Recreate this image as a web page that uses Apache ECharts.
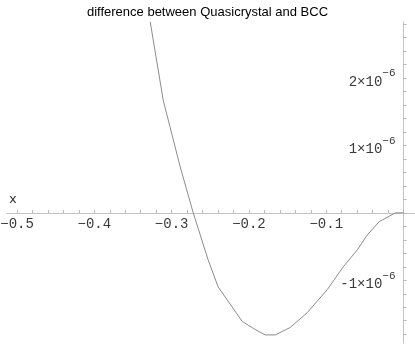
<!DOCTYPE html>
<html>
<head>
<meta charset="utf-8">
<script src="https://cdn.jsdelivr.net/npm/echarts@6/dist/echarts.min.js"></script>
<style>
  html, body { margin: 0; padding: 0; background: #fff; }
</style>
</head>
<body>
<div id="chart" style="width:415px;height:347px"></div>
<script>
// difference values are in units of 1e-6
const xs = [-0.3277, -0.3109, -0.2889, -0.2721, -0.2527, -0.2398, -0.2087, -0.1919, -0.179, -0.166,
  -0.1466, -0.1246, -0.0988, -0.078, -0.0599, -0.047, -0.0315, -0.0107, 0]
const diff = [2.83, 1.67, 0.68, 0, -0.7, -1.1, -1.61, -1.73, -1.81, -1.81,
  -1.7, -1.48, -1.14, -0.8, -0.55, -0.33, -0.13, 0, 0]

const xLabels = [-0.5, -0.4, -0.3, -0.2, -0.1]
const yLabels = [-1, 1, 2]

const xTicks = []
for (let i = -25; i <= 0; i++) xTicks.push(i * 0.02)
const yTicks = []
for (let i = -9; i <= 14; i++) yTicks.push(i * 0.2)

// plot area in px: x from 7 to 415, y from 22 to 343; zero lines at x=403.5, y=213
const chart = echarts.init(document.getElementById('chart'))

chart.setOption({
  animation: false,
  title: {
    text: 'difference between Quasicrystal and BCC',
    left: 'center',
    top: 1,
    textStyle: {
      fontFamily: 'Liberation Sans',
      fontWeight: 'normal',
      fontSize: 13,
      color: '#000',
    },
  },
  graphic: [
    {
      type: 'text',
      left: 9,
      top: 193,
      style: { text: 'x', font: '13px "Liberation Mono"', fill: '#222' },
    },
  ],
  grid: {
    left: 7,
    right: 0,
    top: 22,
    bottom: 4,
    outerBoundsMode: 'none',
  },
  xAxis: {
    type: 'value',
    position: 'bottom',
    offset: -130,
    min: -0.513,
    max: 0.0148,
    splitLine: { show: false },
    axisLine: { onZero: false, lineStyle: { color: '#c4c4c4', width: 1 } },
    axisTick: {
      inside: true,
      length: 3,
      customValues: xTicks,
      lineStyle: { color: '#b8b8b8' },
    },
    axisLabel: {
      customValues: xLabels,
      margin: 4,
      fontFamily: 'Liberation Mono',
      fontSize: 14,
      color: '#3a3a3a',
      formatter: (v) => '\u2212' + Math.abs(v).toFixed(1),
    },
  },
  yAxis: {
    type: 'value',
    position: 'left',
    offset: -396.5,
    min: -1.93,
    max: 2.83,
    splitLine: { show: false },
    axisLine: { onZero: false, lineStyle: { color: '#c4c4c4', width: 1 } },
    axisTick: {
      inside: true,
      length: 3,
      customValues: yTicks,
      lineStyle: { color: '#b8b8b8' },
    },
    axisLabel: {
      customValues: yLabels,
      margin: 8,
      color: '#3a3a3a',
      formatter: (v) => '{a|' + (v < 0 ? '-' : '') + Math.abs(Math.round(v)) + '\u00d710}{s|\u22126}',
      rich: {
        a: { fontFamily: 'Liberation Mono', fontSize: 14, color: '#3a3a3a', padding: [8, 0, 0, 0] },
        s: { fontFamily: 'Liberation Mono', fontSize: 11, color: '#3a3a3a', padding: [0, 0, 9, 0] },
      },
    },
  },
  series: [
    {
      type: 'line',
      data: xs.map((x, i) => [x, diff[i]]),
      showSymbol: false,
      symbol: 'none',
      clip: true,
      lineStyle: { color: '#8c8c8c', width: 1 },
    },
  ],
})
</script>
</body>
</html>
